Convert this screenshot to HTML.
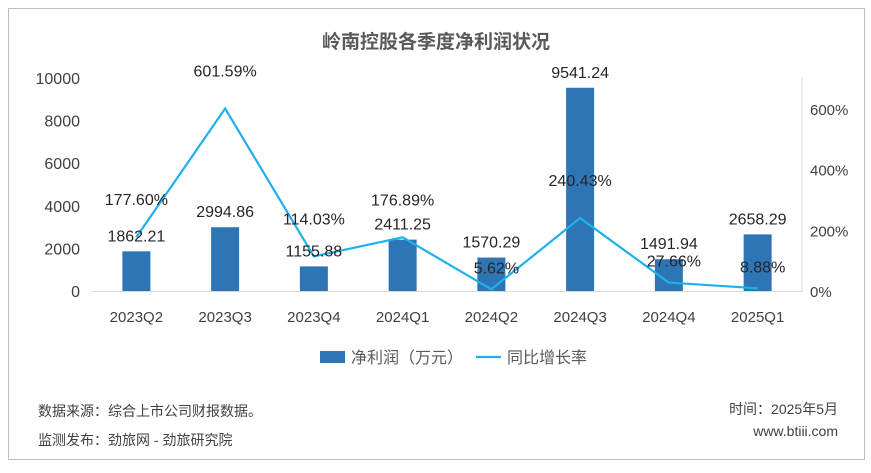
<!DOCTYPE html>
<html><head><meta charset="utf-8"><style>
body{margin:0;background:#fff;}
svg text{font-family:"Liberation Sans","Noto Sans CJK SC",sans-serif;}
</style></head><body>
<svg id="chart" width="871" height="468">
<rect x="8.5" y="8.5" width="856" height="451" fill="#fff" stroke="#bfbfbf"/>
<text x="436" y="48" text-anchor="middle" font-size="19" font-weight="bold" fill="#595959">岭南控股各季度净利润状况</text>
<g id="axes"></g><g id="bars"></g><g id="line"></g><g id="labels"></g>
<g>
<rect x="320" y="351" width="25" height="12" fill="#2e75b6"/>
<text x="351" y="363" font-size="16" fill="#595959">净利润（万元）</text>
<line x1="476" y1="357" x2="501" y2="357" stroke="#1fb0ee" stroke-width="2.2"/>
<text x="507" y="363" font-size="16" fill="#595959">同比增长率</text>
</g>
<text x="38" y="416" font-size="14" fill="#404040">数据来源：综合上市公司财报数据。</text>
<text x="38" y="445" font-size="14" fill="#404040">监测发布：劲旅网 - 劲旅研究院</text>
<text x="838" y="414" font-size="14" fill="#404040" text-anchor="end">时间：2025年5月</text>
<text x="838" y="436" font-size="14" fill="#404040" text-anchor="end">www.btiii.com</text>
</svg>
<script>
const categories=["2023Q2","2023Q3","2023Q4","2024Q1","2024Q2","2024Q3","2024Q4","2025Q1"];
const profits=[1862.21,2994.86,1155.88,2411.25,1570.29,9541.24,1491.94,2658.29];
const growth=[177.60,601.59,114.03,176.89,5.62,240.43,27.66,8.88];
const leftTicks=[0,2000,4000,6000,8000,10000];
const rightTicks=[0,200,400,600];
const NS="http://www.w3.org/2000/svg";
const plotL=92,plotR=802,y0=291;
const xs=i=>plotL+(plotR-plotL)/categories.length*(i+0.5);
const yL=v=>y0-v*(213/10000);
const yR=v=>y0-v*(182/600);
function mk(tag,attrs,parent,txt){const e=document.createElementNS(NS,tag);for(const k in attrs)e.setAttribute(k,attrs[k]);if(txt!==undefined)e.textContent=txt;document.getElementById(parent).appendChild(e);return e;}
leftTicks.forEach(t=>{const e=mk("text",{x:80,y:yL(t)+6,"text-anchor":"end","font-size":16,fill:"#404040"},"axes",t);

});
rightTicks.forEach(t=>{const e=mk("text",{x:810,y:yR(t)+6,"font-size":15,fill:"#404040"},"axes",t+"%");

});
const ax=mk("line",{x1:plotL,x2:plotR,y1:y0+0.5,y2:y0+0.5,stroke:"#d9d9d9"},"axes");


const ra=mk("line",{x1:plotR,x2:plotR,y1:78,y2:y0,stroke:"#d9d9d9"},"axes");


categories.forEach((c,i)=>{const e=mk("text",{x:xs(i),y:322,"text-anchor":"middle","font-size":15,fill:"#404040"},"axes",c);

});
profits.forEach((v,i)=>{const b=mk("rect",{x:xs(i)-14,y:yL(v),width:28,height:y0-yL(v),fill:"#2e75b6"},"bars");


const t=mk("text",{x:xs(i),y:yL(v)-10,"text-anchor":"middle","font-size":16,fill:"#262626"},"labels",v.toFixed(2));

});
const pts=growth.map((g,i)=>xs(i)+","+yR(g)).join(" ");
const pl=mk("polyline",{points:pts,fill:"none",stroke:"#1fb0ee","stroke-width":2.2},"line");


growth.forEach((g,i)=>{const small=g<50;const t=mk("text",{x:small?xs(i)+5:xs(i),y:small?yR(g)-16:yR(g)-32,"text-anchor":"middle","font-size":16,fill:"#262626"},"labels",g.toFixed(2)+"%");

});
</script>
</body></html>
